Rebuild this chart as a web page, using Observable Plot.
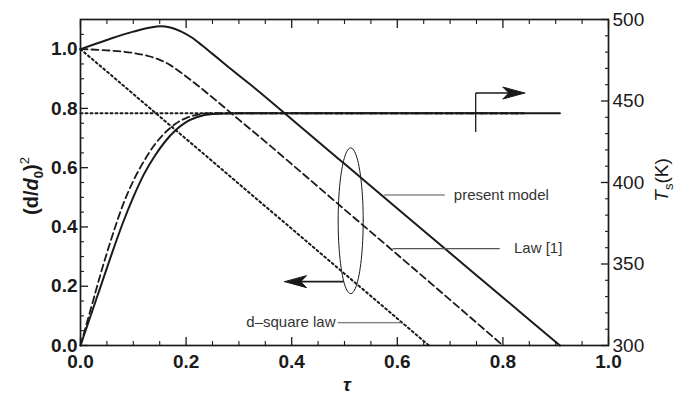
<!DOCTYPE html>
<html>
<head>
<meta charset="utf-8">
<script src="https://cdn.jsdelivr.net/npm/d3@7"></script>
<script src="https://cdn.jsdelivr.net/npm/@observablehq/plot@0.6"></script>
<style>
  html, body { margin: 0; padding: 0; background: #fff; }
  #chart svg { display: block; }
</style>
</head>
<body>
<div id="chart"></div>
<script>
// ---------- data ----------
// normalised droplet size (d/d0)^2 versus tau
const presentTau = [0, 0.05, 0.1, 0.13, 0.152, 0.17, 0.19, 0.21, 0.23, 0.25, 0.28, 0.32, 0.4, 0.5, 0.6, 0.7, 0.8, 0.908];
const presentD2  = [1.0, 1.031, 1.059, 1.072, 1.077, 1.073, 1.06, 1.04, 1.013, 0.984, 0.94, 0.883, 0.7635, 0.613, 0.462, 0.312, 0.162, 0];

const law1Tau = [0, 0.05, 0.1, 0.13, 0.15, 0.17, 0.19, 0.21, 0.23, 0.26, 0.3, 0.35, 0.4, 0.5, 0.6, 0.7, 0.8];
const law1D2  = [1.0, 0.996, 0.987, 0.976, 0.964, 0.946, 0.921, 0.894, 0.866, 0.822, 0.762, 0.688, 0.612, 0.459, 0.307, 0.154, 0];

const dsqTau = [0, 0.66];
const dsqD2  = [1.0, 0];

// surface temperature Ts (K) versus tau
const presentTsTau = [0, 0.02, 0.04, 0.06, 0.08, 0.1, 0.12, 0.14, 0.16, 0.18, 0.2, 0.22, 0.25, 0.3, 0.908];
const presentTs    = [300, 319, 338, 357, 375, 391, 405, 416, 425, 432, 437, 440, 442, 442.5, 442.5];

const law1TsTau = [0, 0.02, 0.04, 0.06, 0.08, 0.1, 0.12, 0.14, 0.16, 0.18, 0.2, 0.22, 0.25, 0.84];
const law1Ts    = [300, 323, 346, 367, 386, 401, 413, 423, 430.5, 436, 439.5, 441.5, 442.5, 442.5];

const dsqTsTau = [0, 0.84];
const dsqTs    = [442.5, 442.5];

// axes
const xTicks = [0, 0.2, 0.4, 0.6, 0.8, 1.0];
const xMinor = [0.05, 0.1, 0.15, 0.25, 0.3, 0.35, 0.45, 0.5, 0.55, 0.65, 0.7, 0.75, 0.85, 0.9, 0.95];
const leftTicks = [0, 0.2, 0.4, 0.6, 0.8, 1.0];
const leftMinor = [0.05, 0.1, 0.15, 0.25, 0.3, 0.35, 0.45, 0.5, 0.55, 0.65, 0.7, 0.75, 0.85, 0.9, 0.95, 1.05];
const rightTicks = [300, 350, 400, 450, 500];
const rightMinor = [310, 320, 330, 340, 360, 370, 380, 390, 410, 420, 430, 440, 460, 470, 480, 490];
const yMax = 1.1, tMin = 300, tMax = 500;

// annotation anchors (data units: tau, (d/d0)^2)
const labelPresent = {x1: 0.574, x2: 0.690, y: 0.508, tx: 0.707, text: "present model"};
const labelLaw1    = {x1: 0.591, x2: 0.794, y: 0.327, tx: 0.821, text: "Law [1]"};
const labelDsq     = {x1: 0.487, x2: 0.610, y: 0.077, tx: 0.483, text: "d\u2013square law"};
const ellipseC = {x: 0.5117, y: 0.4209, rx: 0.0237, ry: 0.2458};
const leftArrow = {x1: 0.4984, x2: 0.3866, y: 0.2155};
const rightArrow = {x: 0.7485, y1: 0.7205, y2: 0.8519, x2: 0.8414};

// ---------- helpers ----------
const toY = T => (T - tMin) / (tMax - tMin) * yMax;
const fromY = v => tMin + v / yMax * (tMax - tMin);
const pts = (xs, ys, f = v => v) => xs.map((x, i) => ({x, y: f(ys[i])}));

const W = 688, H = 398, mL = 80, mR = 80, mT = 19, mB = 53;
const pxX = 1 / (W - mL - mR);          // tau per pixel
const pxY = yMax / (H - mT - mB);       // y per pixel

// filled arrow head (concave back) pointing in +x or -x direction
function head(tipX, tipY, dir) {
  const L = 22, N = 16, h = 6;
  return [
    {x: tipX, y: tipY},
    {x: tipX - dir * L * pxX, y: tipY + h * pxY},
    {x: tipX - dir * N * pxX, y: tipY},
    {x: tipX - dir * L * pxX, y: tipY - h * pxY},
    {x: tipX, y: tipY}
  ];
}

const ellipsePts = d3.range(0, 361, 4).map(a => ({
  x: ellipseC.x + ellipseC.rx * Math.cos(a * Math.PI / 180),
  y: ellipseC.y + ellipseC.ry * Math.sin(a * Math.PI / 180)
}));

const ink = "#1a1a1a";
const empty = () => "";

const svg = Plot.plot({
  width: W, height: H,
  marginLeft: mL, marginRight: mR, marginTop: mT, marginBottom: mB,
  style: {fontFamily: "'Liberation Sans', Arial, sans-serif", background: "#fff", color: ink},
  x: {domain: [0, 1]},
  y: {domain: [0, yMax]},
  marks: [
    // axes
    Plot.axisY({anchor: "left", ticks: leftTicks, tickSize: -8, tickPadding: 11, tickFormat: d3.format(".1f"), fontSize: 19, fontWeight: "bold", label: null, strokeWidth: 1.3}),
    Plot.axisY({anchor: "left", ticks: leftMinor, tickSize: -4, tickFormat: empty, label: null, strokeWidth: 1.1}),
    Plot.axisY({anchor: "right", ticks: rightTicks.map(toY), tickSize: -8, tickPadding: 12, tickFormat: d => Math.round(fromY(d)), fontSize: 19, label: null, strokeWidth: 1.3}),
    Plot.axisY({anchor: "right", ticks: rightMinor.map(toY), tickSize: -4, tickFormat: empty, label: null, strokeWidth: 1.1}),
    Plot.axisX({anchor: "bottom", ticks: xTicks, tickSize: -8, tickPadding: 17, tickFormat: d3.format(".1f"), fontSize: 19, fontWeight: "bold", label: null, strokeWidth: 1.3}),
    Plot.axisX({anchor: "bottom", ticks: xMinor, tickSize: -4, tickFormat: empty, label: null, strokeWidth: 1.1}),
    Plot.axisX({anchor: "top", ticks: xTicks, tickSize: -8, tickFormat: empty, label: null, strokeWidth: 1.3}),
    Plot.axisX({anchor: "top", ticks: xMinor, tickSize: -4, tickFormat: empty, label: null, strokeWidth: 1.1}),
    Plot.frame({stroke: ink, strokeWidth: 1.7}),

    // temperature curves (right axis)
    Plot.line(pts(dsqTsTau, dsqTs, toY), {x: "x", y: "y", stroke: ink, strokeWidth: 2, strokeDasharray: "2,3"}),
    Plot.line(pts(law1TsTau, law1Ts, toY), {x: "x", y: "y", stroke: ink, strokeWidth: 1.8, strokeDasharray: "7,4", curve: "monotone-x"}),
    Plot.line(pts(presentTsTau, presentTs, toY), {x: "x", y: "y", stroke: ink, strokeWidth: 2, curve: "monotone-x"}),

    // droplet size curves (left axis)
    Plot.line(pts(dsqTau, dsqD2), {x: "x", y: "y", stroke: ink, strokeWidth: 2, strokeDasharray: "2,3"}),
    Plot.line(pts(law1Tau, law1D2), {x: "x", y: "y", stroke: ink, strokeWidth: 1.8, strokeDasharray: "7,4", curve: "monotone-x"}),
    Plot.line(pts(presentTau, presentD2), {x: "x", y: "y", stroke: ink, strokeWidth: 2, curve: "monotone-x"}),

    // annotations
    Plot.line(ellipsePts, {x: "x", y: "y", stroke: ink, strokeWidth: 1}),
    Plot.link([leftArrow], {x1: "x1", x2: d => d.x2 + 14 * pxX, y1: "y", y2: "y", stroke: ink, strokeWidth: 1.6}),
    Plot.line(head(leftArrow.x2, leftArrow.y, -1), {x: "x", y: "y", fill: ink, stroke: ink, strokeWidth: 1}),
    Plot.link([rightArrow], {x1: "x", x2: "x", y1: "y1", y2: "y2", stroke: ink, strokeWidth: 1.3}),
    Plot.link([rightArrow], {x1: "x", x2: d => d.x2 - 14 * pxX, y1: "y2", y2: "y2", stroke: ink, strokeWidth: 1.6}),
    Plot.line(head(rightArrow.x2, rightArrow.y2, 1), {x: "x", y: "y", fill: ink, stroke: ink, strokeWidth: 1}),

    Plot.link([labelPresent, labelLaw1, labelDsq], {x1: "x1", x2: "x2", y1: "y", y2: "y", stroke: "#555", strokeWidth: 1.1}),
    Plot.text([labelPresent, labelLaw1], {x: "tx", y: "y", text: "text", textAnchor: "start", fontSize: 15, fill: "#333"}),
    Plot.text([labelDsq], {x: "tx", y: "y", text: "text", textAnchor: "end", fontSize: 15, fill: "#333"})
  ]
});

document.getElementById("chart").append(svg);

// axis titles with sub/superscripts
const s = d3.select(svg);
const yl = s.append("text")
  .attr("transform", "translate(38,186) rotate(-90)")
  .attr("text-anchor", "middle")
  .style("font", "bold 20px 'Liberation Sans', Arial, sans-serif")
  .attr("fill", ink);
yl.append("tspan").text("(d/");
yl.append("tspan").style("font-style", "italic").text("d");
yl.append("tspan").attr("dy", 5).style("font-size", "13px").text("0");
yl.append("tspan").attr("dy", -5).text(")");
yl.append("tspan").attr("dy", -9).style("font-size", "13px").style("font-weight", "normal").text("2");

const rl = s.append("text")
  .attr("transform", "translate(668,180) rotate(-90)")
  .attr("text-anchor", "middle")
  .style("font", "19px 'Liberation Sans', Arial, sans-serif")
  .attr("fill", ink);
rl.append("tspan").style("font-style", "italic").text("T");
rl.append("tspan").attr("dy", 5).style("font-size", "13px").text("s");
rl.append("tspan").attr("dy", -5).text("(K)");

s.append("text")
  .attr("x", 347).attr("y", 391)
  .attr("text-anchor", "middle")
  .style("font", "italic bold 19px 'Liberation Sans', Arial, sans-serif")
  .attr("fill", ink)
  .text("\u03c4");
</script>
</body>
</html>
